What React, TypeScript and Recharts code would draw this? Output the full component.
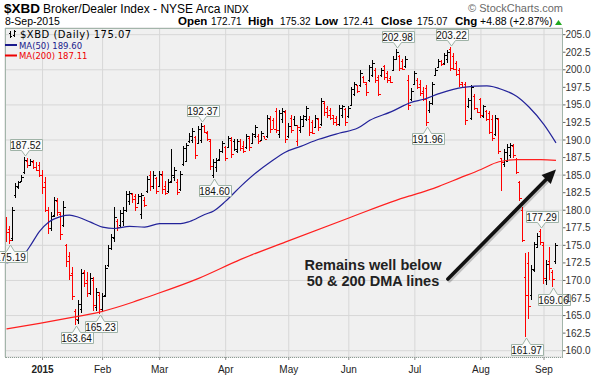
import React from 'react'
import {
  ComposedChart,
  Bar,
  Line,
  XAxis,
  YAxis,
  CartesianGrid,
  ReferenceDot,
  ReferenceLine,
} from 'recharts'

// trading days shown, per month
const dec2014 = [15, 16, 17, 18, 19, 22, 23, 24, 26, 29, 30, 31]
const jan2015 = [2, 5, 6, 7, 8, 9, 12, 13, 14, 15, 16, 20, 21, 22, 23, 26, 27, 28, 29, 30]
const feb2015 = [2, 3, 4, 5, 6, 9, 10, 11, 12, 13, 17, 18, 19, 20, 23, 24, 25, 26, 27]
const mar2015 = [2, 3, 4, 5, 6, 9, 10, 11, 12, 13, 16, 17, 18, 19, 20, 23, 24, 25, 26, 27, 30, 31]
const apr2015 = [1, 2, 6, 7, 8, 9, 10, 13, 14, 15, 16, 17, 20, 21, 22, 23, 24, 27, 28, 29, 30]
const may2015 = [1, 4, 5, 6, 7, 8, 11, 12, 13, 14, 15, 18, 19, 20, 21, 22, 26, 27, 28, 29]
const jun2015 = [1, 2, 3, 4, 5, 8, 9, 10, 11, 12, 15, 16, 17, 18, 19, 22, 23, 24, 25, 26, 29, 30]
const jul2015 = [1, 2, 6, 7, 8, 9, 10, 13, 14, 15, 16, 17, 20, 21, 22, 23, 24, 27, 28, 29, 30, 31]
const aug2015 = [3, 4, 5, 6, 7, 10, 11, 12, 13, 14, 17, 18, 19, 20, 21, 24, 25, 26, 27, 28, 31]
const sep2015 = [1, 2, 3, 4, 8]

const monthTicks = ['2015-01-02', '2015-02-02', '2015-03-02', '2015-04-01', '2015-05-01', '2015-06-01', '2015-07-01', '2015-08-03', '2015-09-01']
const monthTickLabels = ['2015', 'Feb', 'Mar', 'Apr', 'May', 'Jun', 'Jul', 'Aug', 'Sep']

const yTicks = [160, 162.5, 165, 167.5, 170, 172.5, 175, 177.5, 180, 182.5, 185, 187.5, 190, 192.5, 195, 197.5, 200, 202.5, 205]

const priorClose = 178.2

const opens = [
  178.0, 177.3, 176.0, 182.2, 183.3, 184.2, 185.4, 187.0, 186.5, 186.9,
  186.2, 186.5, 185.0, 184.0, 180.0, 177.4, 179.3, 181.3, 179.5, 177.9,
  175.0, 173.5, 171.0, 165.6, 164.3, 166.0, 171.2, 170.0, 168.2, 170.0,
  166.2, 168.0, 166.0, 168.0, 172.2, 174.6, 176.0, 178.5, 177.9, 178.4,
  180.0, 181.3, 182.3, 182.0, 181.0, 179.5, 181.5, 182.8, 185.0, 183.5,
  184.6, 183.5, 185.0, 183.5, 182.8, 184.2, 184.8, 184.0, 183.0, 186.6,
  187.0, 189.8, 190.0, 190.4, 189.6, 190.0, 192.0, 191.0, 189.8, 185.0,
  186.2, 187.3, 188.4, 189.0, 189.0, 190.0, 189.8, 188.5, 189.9, 189.2,
  189.0, 190.3, 189.6, 190.6, 190.6, 190.0, 190.5, 190.5, 193.0, 192.8,
  194.2, 190.8, 193.0, 194.0, 190.5, 193.2, 193.0, 189.8, 191.4, 192.0,
  193.0, 193.0, 192.5, 191.9, 193.0, 192.3, 195.3, 194.5, 194.3, 193.5,
  193.2, 192.3, 193.5, 194.4, 193.4, 195.0, 196.5, 197.8, 197.8, 199.0,
  198.0, 198.6, 199.3, 200.0, 199.0, 199.2, 200.5, 199.5, 198.9, 200.0,
  201.6, 201.9, 201.3, 200.5, 198.5, 195.8, 198.0, 198.6, 198.0, 197.0,
  197.4, 194.3, 195.2, 199.3, 200.4, 201.2, 200.9, 201.5, 203.0, 202.0,
  200.9, 200.0, 198.2, 198.0, 194.8, 193.2, 196.2, 194.5, 195.8, 193.4,
  194.1, 193.8, 193.0, 190.8, 193.0, 187.4, 186.6, 187.0, 187.8, 189.2,
  187.3, 184.0, 180.0, 170.5, 172.5, 168.0, 171.5, 174.8, 177.0, 175.0,
  170.0, 172.8, 171.2, 172.71,
]

const highs = [
  179.1, 177.8, 180.4, 183.9, 184.2, 185.0, 187.52, 187.4, 187.3, 187.1,
  186.8, 186.8, 185.8, 184.7, 180.4, 179.8, 181.9, 181.8, 179.8, 181.3,
  175.2, 174.1, 171.9, 166.0, 167.2, 171.7, 171.5, 171.2, 171.0, 170.5,
  168.9, 168.4, 168.2, 172.2, 175.0, 176.6, 180.4, 178.8, 180.0, 180.4,
  182.8, 182.8, 182.5, 182.3, 182.3, 182.4, 181.9, 184.9, 185.6, 185.6,
  184.7, 185.6, 185.6, 184.2, 184.4, 188.7, 186.1, 184.4, 185.6, 189.2,
  189.6, 191.0, 191.7, 190.6, 192.0, 192.37, 192.2, 191.3, 190.1, 187.3,
  187.5, 188.7, 189.9, 189.2, 190.6, 190.4, 190.1, 190.1, 190.1, 189.9,
  190.8, 190.6, 191.0, 192.2, 190.8, 191.3, 190.6, 193.6, 193.4, 193.2,
  194.6, 194.3, 194.6, 194.3, 192.4, 193.6, 193.4, 192.2, 193.4, 193.6,
  194.8, 193.4, 192.9, 193.6, 193.2, 196.0, 195.5, 194.8, 194.6, 193.6,
  193.4, 195.0, 195.0, 194.6, 194.8, 197.6, 198.3, 197.9, 200.0, 199.1,
  198.3, 200.7, 201.4, 200.2, 199.3, 200.2, 200.7, 199.8, 199.1, 201.9,
  202.98, 202.1, 201.6, 201.9, 199.3, 197.4, 199.8, 198.8, 198.6, 197.5,
  197.8, 195.5, 198.3, 200.2, 201.6, 201.4, 202.4, 202.8, 203.22, 202.4,
  201.2, 200.2, 198.3, 198.3, 196.0, 197.9, 196.5, 194.6, 196.0, 195.0,
  194.3, 194.1, 193.6, 193.6, 193.2, 187.5, 188.7, 189.4, 189.6, 189.4,
  187.5, 184.2, 180.4, 173.9, 174.1, 172.2, 175.5, 176.7, 177.29, 175.5,
  172.9, 174.8, 171.5, 175.32,
]

const lows = [
  175.5, 175.19, 175.6, 181.8, 183.0, 184.0, 185.2, 186.0, 186.3, 185.9,
  185.6, 184.7, 182.3, 179.7, 176.6, 177.0, 179.0, 179.2, 175.8, 177.6,
  171.9, 170.0, 167.2, 163.64, 163.8, 165.3, 169.1, 167.7, 167.9, 165.6,
  165.6, 165.23, 165.5, 167.6, 171.9, 174.3, 175.5, 177.1, 177.6, 177.8,
  179.7, 180.7, 181.1, 179.9, 180.9, 178.8, 180.4, 182.5, 182.8, 183.0,
  182.3, 183.3, 182.3, 182.1, 182.5, 183.9, 184.2, 182.1, 182.8, 186.3,
  186.8, 189.6, 189.6, 187.3, 189.4, 189.6, 191.0, 189.9, 185.8, 184.6,
  185.4, 187.0, 188.2, 187.0, 188.9, 187.5, 188.4, 188.2, 188.4, 188.2,
  188.7, 188.4, 189.4, 190.3, 189.4, 189.9, 190.1, 190.3, 191.0, 191.5,
  191.0, 190.3, 192.4, 189.6, 190.3, 191.0, 192.0, 189.2, 191.0, 191.8,
  192.7, 190.6, 190.8, 191.7, 191.3, 192.0, 193.4, 193.2, 192.9, 192.2,
  192.0, 192.0, 193.2, 192.0, 193.2, 194.8, 196.2, 196.7, 197.6, 198.1,
  196.2, 198.3, 199.0, 198.1, 196.2, 199.0, 198.6, 198.1, 198.1, 199.8,
  201.4, 199.8, 200.0, 200.2, 194.3, 195.5, 197.9, 197.2, 196.2, 195.5,
  191.96, 193.8, 195.0, 199.1, 200.2, 200.5, 200.7, 200.9, 199.8, 199.9,
  199.1, 197.6, 197.4, 192.2, 194.6, 192.9, 194.3, 193.9, 193.2, 193.2,
  192.7, 190.8, 189.9, 190.6, 188.0, 182.8, 186.1, 186.8, 187.5, 187.5,
  185.1, 181.3, 175.5, 161.97, 164.5, 167.2, 171.2, 174.6, 175.0, 169.5,
  169.3, 170.0, 169.06, 172.41,
]

const closes = [
  176.9, 175.8, 180.0, 183.5, 184.0, 184.8, 187.2, 186.5, 187.0, 186.2,
  185.8, 185.0, 183.3, 180.1, 177.5, 179.2, 181.4, 179.8, 176.6, 180.5,
  172.8, 170.8, 167.8, 164.5, 166.6, 171.0, 169.6, 168.2, 170.3, 166.5,
  168.3, 165.9, 167.8, 171.8, 174.6, 176.2, 179.0, 177.6, 179.6, 180.1,
  182.3, 182.5, 181.6, 180.5, 182.0, 182.2, 180.8, 184.5, 183.5, 185.0,
  182.8, 185.2, 183.0, 182.5, 184.0, 185.0, 185.8, 182.6, 185.2, 188.8,
  189.3, 190.6, 191.3, 187.9, 191.6, 192.0, 191.2, 190.2, 186.3, 186.8,
  187.2, 188.5, 189.6, 187.5, 190.3, 188.0, 188.7, 189.8, 188.8, 188.5,
  190.5, 189.0, 190.8, 191.9, 189.8, 191.0, 190.2, 193.2, 191.6, 191.5,
  191.4, 193.8, 194.2, 190.2, 192.0, 191.4, 192.2, 191.8, 193.0, 193.4,
  194.5, 191.2, 191.0, 193.2, 191.8, 195.5, 194.0, 193.5, 193.2, 192.5,
  192.3, 194.6, 194.8, 192.6, 194.5, 197.3, 198.0, 197.0, 199.6, 198.3,
  196.8, 200.4, 201.0, 198.6, 196.6, 200.0, 199.0, 198.5, 198.3, 201.6,
  202.5, 200.3, 200.1, 201.6, 195.0, 197.0, 199.5, 197.5, 196.7, 195.9,
  192.5, 195.2, 198.0, 200.0, 201.3, 200.8, 202.1, 202.5, 200.3, 200.1,
  199.4, 198.0, 197.6, 192.8, 195.7, 197.5, 194.6, 194.0, 193.5, 194.8,
  193.0, 191.2, 190.3, 193.2, 188.5, 186.8, 188.3, 189.0, 189.3, 187.9,
  185.4, 181.8, 175.8, 168.0, 166.4, 171.6, 175.2, 176.4, 175.5, 170.4,
  172.4, 171.8, 170.19, 175.07,
]

// moving averages: [bar index, value]
const ma50Points: [number, number][] = [
  [0, 172.5], [5, 173.3], [8, 175.0], [11, 177.0], [14, 178.3], [18, 179.1], [21, 179.3],
  [24, 179.0], [28, 178.3], [32, 177.6], [36, 177.4], [41, 177.7], [46, 177.6], [51, 178.1],
  [58, 178.1], [61, 178.4], [66, 179.4], [69, 179.9], [73, 181.3], [78, 183.4], [83, 185.3],
  [88, 186.9], [93, 188.3], [98, 189.1], [104, 190.1], [111, 191.0], [117, 191.7], [121, 192.8],
  [128, 194.0], [135, 195.4], [139, 195.8], [144, 196.6], [152, 197.5], [160, 197.7],
  [165, 197.2], [170, 196.2], [174, 194.7], [179, 192.2], [183, 189.6],
]
const ma200Points: [number, number][] = [
  [0, 163.1], [11, 163.9], [20, 164.6], [31, 165.5], [42, 166.9], [46, 167.5], [64, 170.3],
  [78, 173.0], [93, 175.5], [114, 178.9], [134, 182.0], [138, 182.5], [144, 183.4],
  [151, 184.6], [158, 185.8], [164, 186.9], [170, 187.2], [178, 187.2], [183, 187.11],
]

// labelled highs and lows: bar index, value, placed below the bar?
const tagBars = [6, 1, 23, 31, 65, 69, 130, 140, 148, 173, 178, 182]
const tagValues = [187.52, 175.19, 163.64, 165.23, 192.37, 184.6, 202.98, 191.96, 203.22, 161.97, 177.29, 169.06]
const tagBelow = [false, true, true, true, false, true, false, true, false, true, false, true]

const tradingMonths: [string, number[]][] = [
  ['2014-12', dec2014], ['2015-01', jan2015], ['2015-02', feb2015], ['2015-03', mar2015],
  ['2015-04', apr2015], ['2015-05', may2015], ['2015-06', jun2015], ['2015-07', jul2015],
  ['2015-08', aug2015], ['2015-09', sep2015],
]
const dates: string[] = []
tradingMonths.forEach(([ym, days]) => days.forEach((d) => dates.push(`${ym}-${String(d).padStart(2, '0')}`)))

const ma50ByBar = new Map(ma50Points)
const ma200ByBar = new Map(ma200Points)

const rows = dates.map((date, i) => ({
  date,
  open: opens[i],
  high: highs[i],
  low: lows[i],
  close: closes[i],
  range: [lows[i], highs[i]],
  up: closes[i] >= (i === 0 ? priorClose : closes[i - 1]),
  ma50: ma50ByBar.get(i) ?? null,
  ma200: ma200ByBar.get(i) ?? null,
}))

const ARIAL = '"Liberation Sans", Arial, sans-serif'
const VERDANA = '"DejaVu Sans", Verdana, sans-serif'

const OhlcShape = (props: any) => {
  const { x, y, width, height, payload } = props
  if (!payload || x == null) return null
  const top = Math.min(y, y + height)
  const bottom = Math.max(y, y + height)
  const span = payload.high - payload.low || 1
  const py = (v: number) => Math.round(top + ((payload.high - v) / span) * (bottom - top)) + 0.5
  const cx = Math.floor(x + width / 2) + 0.5
  const color = payload.up ? '#000' : '#ff0000'
  return (
    <g stroke={color} strokeWidth={1} shapeRendering="crispEdges">
      <line x1={cx} x2={cx} y1={top} y2={Math.max(bottom, top + 1)} />
      <line x1={cx - 2} x2={cx} y1={py(payload.open)} y2={py(payload.open)} />
      <line x1={cx} x2={cx + 2} y1={py(payload.close)} y2={py(payload.close)} />
    </g>
  )
}

const PriceTag = (props: any) => {
  const { cx, cy, text, below } = props
  if (cx == null || cy == null) return null
  const w = 32
  const h = 11
  const half = 4
  const px = Math.round(cx) + 0.5
  const tip = Math.round(cy) + (below ? 1 : -1)
  const edge = Math.round(below ? tip + 6 : tip - 6) + 0.5
  const far = below ? edge + h : edge - h
  const x0 = Math.round(px - w / 2) + 0.5
  const x1 = x0 + w
  const d = `M${x0},${edge} L${px - half},${edge} L${px},${tip} L${px + half},${edge} L${x1},${edge} L${x1},${far} L${x0},${far} Z`
  return (
    <g>
      <path d={d} fill="#fbfbfb" stroke="#9fb3a7" strokeWidth={1} />
      <text x={px} y={(edge + far) / 2 + 3.6} textAnchor="middle" fontSize={10} fontFamily={ARIAL} fill="#111">
        {text}
      </text>
    </g>
  )
}

const ArrowShape = (props: any) => {
  const { x1, y1, x2, y2 } = props
  if (x1 == null) return null
  const dx = x2 - x1
  const dy = y2 - y1
  const len = Math.hypot(dx, dy) || 1
  const ux = dx / len
  const uy = dy / len
  const headLen = 14
  const headHalf = 6.5
  const bx = x2 - ux * headLen
  const by = y2 - uy * headLen
  const head = `${x2},${y2} ${bx - uy * headHalf},${by + ux * headHalf} ${bx + uy * headHalf},${by - ux * headHalf}`
  return (
    <g>
      <line x1={x1 + 1.5} y1={y1 + 1.5} x2={bx + 1.5} y2={by + 1.5} stroke="rgba(0,0,0,0.2)" strokeWidth={4} strokeLinecap="round" />
      <line x1={x1} y1={y1} x2={bx + ux * 2} y2={by + uy * 2} stroke="#111" strokeWidth={3.6} strokeLinecap="round" />
      <polygon points={head} fill="#111" />
    </g>
  )
}

const MonthTick = (props: any) => {
  const { x, y, payload } = props
  const idx = monthTicks.indexOf(payload.value)
  if (idx < 0) return null
  return (
    <text x={x} y={y + 11} textAnchor="middle" fontSize={10} fontFamily={ARIAL} fontWeight={idx === 0 ? 'bold' : 'normal'} fill="#222">
      {monthTickLabels[idx]}
    </text>
  )
}

export default function App() {
  return (
    <div style={{ position: 'absolute', left: 0, top: 0, width: 602, height: 375, background: '#fff', overflow: 'hidden' }}>
      <div style={{ position: 'absolute', left: 0, top: 0 }}>
        <ComposedChart
          width={602}
          height={375}
          data={rows}
          margin={{ top: 28, right: 0, bottom: 0, left: 5 }}
          barCategoryGap={0}
          barGap={0}
        >
          <CartesianGrid stroke="#d7d7d7" fill="#f0f0f0" />
          <XAxis
            dataKey="date"
            ticks={monthTicks}
            interval={0}
            tick={<MonthTick />}
            tickLine={{ stroke: '#8c8c8c' }}
            tickSize={3}
            axisLine={false}
            height={18}
            padding={{ left: 0, right: 5 }}
          />
          <YAxis
            orientation="right"
            type="number"
            domain={[159.1, 205.95]}
            allowDataOverflow
            ticks={yTicks}
            tickFormatter={(v: number) => v.toFixed(1)}
            tick={{ fontSize: 10, fill: '#333', fontFamily: ARIAL }}
            tickLine={{ stroke: '#666' }}
            tickSize={3}
            tickMargin={0}
            axisLine={false}
            width={39.5}
          />
          <Bar dataKey="range" shape={<OhlcShape />} isAnimationActive={false} />
          <Line dataKey="ma200" type="monotone" stroke="#ff1f1f" strokeWidth={1.2} dot={false} connectNulls isAnimationActive={false} />
          <Line dataKey="ma50" type="monotone" stroke="#23239a" strokeWidth={1.2} dot={false} connectNulls isAnimationActive={false} />
          {tagBars.map((bar, i) => (
            <ReferenceDot
              key={bar}
              x={dates[bar]}
              y={tagValues[i]}
              r={0}
              shape={(p: any) => <PriceTag {...p} text={tagValues[i].toFixed(2)} below={tagBelow[i]} />}
            />
          ))}
          <ReferenceLine
            segment={[{ x: dates[147], y: 170.2 }, { x: dates[183], y: 185.8 }]}
            shape={(p: any) => <ArrowShape {...p} />}
          />
        </ComposedChart>
      </div>

      {/* plot frame */}
      <div
        style={{
          position: 'absolute',
          left: 5,
          top: 28,
          width: 558,
          height: 330,
          boxSizing: 'border-box',
          border: '1px solid #a3b5aa',
          borderBottom: '1px dotted #8d9d94',
          pointerEvents: 'none',
        }}
      />

      <svg width={602} height={375} style={{ position: 'absolute', left: 0, top: 0, pointerEvents: 'none' }}>
        {/* header */}
        <text x={4} y={13} fontFamily={ARIAL} fontSize={13.5} fontWeight="bold" fill="#000">$XBD</text>
        <text x={43} y={13} fontFamily={ARIAL} fontSize={12} fill="#000">
          Broker/Dealer Index - NYSE Arca <tspan fontSize={10.5}>INDX</tspan>
        </text>
        <text x={563} y={12} textAnchor="end" fontFamily={ARIAL} fontSize={11} fill="#6a6a6a">© StockCharts.com</text>
        <text x={5} y={25} fontFamily={ARIAL} fontSize={10.5} fill="#000">8-Sep-2015</text>
        <g fontFamily={ARIAL} fill="#000">
          <text x={178} y={25} fontSize={11.5} fontWeight="bold">Open</text>
          <text x={211} y={25} fontSize={10}>172.71</text>
          <text x={248} y={25} fontSize={11.5} fontWeight="bold">High</text>
          <text x={280} y={25} fontSize={10}>175.32</text>
          <text x={315} y={25} fontSize={11.5} fontWeight="bold">Low</text>
          <text x={343} y={25} fontSize={10}>172.41</text>
          <text x={381} y={25} fontSize={11.5} fontWeight="bold">Close</text>
          <text x={417} y={25} fontSize={10}>175.07</text>
          <text x={455} y={25} fontSize={11.5} fontWeight="bold">Chg</text>
          <text x={480} y={25} fontSize={10.5}>+4.88 (+2.87%)</text>
        </g>
        <polygon points="555,25 562,25 558.5,20" fill="#1fa81f" />

        {/* legend */}
        <g stroke="#000" strokeWidth={1} shapeRendering="crispEdges">
          <line x1={10.5} x2={10.5} y1={31} y2={38} />
          <line x1={9} x2={10.5} y1={33.5} y2={33.5} />
          <line x1={10.5} x2={12} y1={36.5} y2={36.5} />
          <line x1={14.5} x2={14.5} y1={30} y2={37} />
          <line x1={13} x2={14.5} y1={35.5} y2={35.5} />
          <line x1={14.5} x2={16} y1={31.5} y2={31.5} />
        </g>
        <text x={20} y={37.5} fontFamily={VERDANA} fontSize={10} letterSpacing={0.5} fill="#000">$XBD (Daily) 175.07</text>
        <line x1={5} x2={17} y1={45} y2={45} stroke="#1a1a8c" strokeWidth={2} />
        <text x={19} y={48.5} fontFamily={VERDANA} fontSize={8.5} fill="#1a1a8c">MA(50) 189.60</text>
        <line x1={5} x2={17} y1={55.5} y2={55.5} stroke="#ee0000" strokeWidth={2} />
        <text x={19} y={59} fontFamily={VERDANA} fontSize={8.5} fill="#ee0000">MA(200) 187.11</text>

        {/* annotation */}
        <text x={373} y={269.5} textAnchor="middle" fontFamily={ARIAL} fontSize={14.5} fontWeight="bold" fill="#222">Remains well below</text>
        <text x={373} y={285.5} textAnchor="middle" fontFamily={ARIAL} fontSize={14.5} fontWeight="bold" fill="#222">50 &amp; 200 DMA lines</text>
      </svg>
    </div>
  )
}
